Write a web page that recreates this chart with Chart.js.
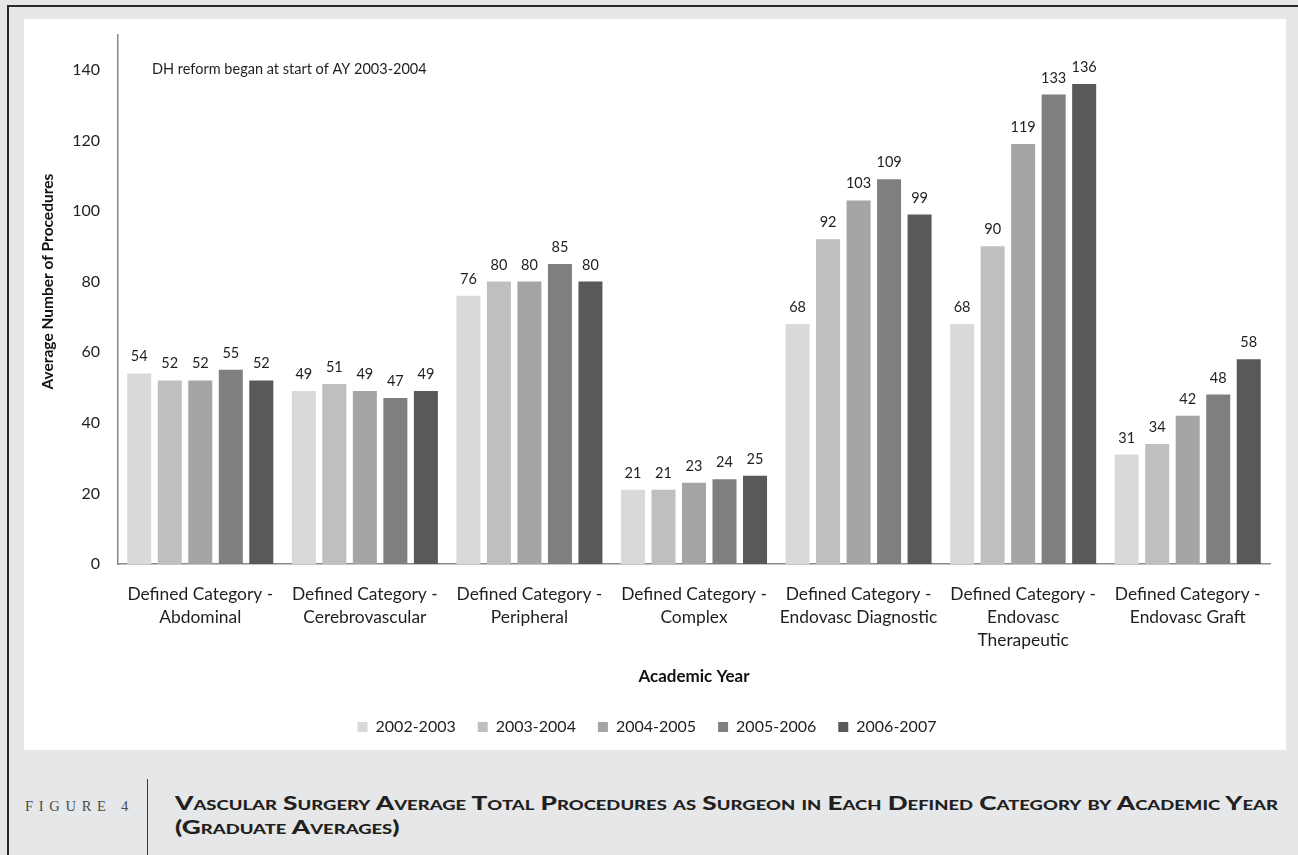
<!DOCTYPE html>
<html>
<head>
<meta charset="utf-8">
<script src="https://cdn.jsdelivr.net/npm/chart.js@4.4.1/dist/chart.umd.min.js"></script>
<style>
  html, body { margin: 0; padding: 0; }
  body {
    width: 1298px; height: 855px; overflow: hidden;
    background: #e6e7e8; position: relative;
    font-family: Lato, "Open Sans", sans-serif;
  }
  #frame {
    position: absolute; left: 7px; top: 5px; width: 1400px; height: 900px;
    border-top: 2px solid #2b2b2b; border-left: 2px solid #2b2b2b;
  }
  #panel {
    position: absolute; left: 24px; top: 19px; width: 1262px; height: 731px;
    background: #ffffff;
  }
  #panel canvas { display: block; }
  #figlabel {
    position: absolute; left: 25px; top: 797px;
    font-family: "Liberation Serif", "DejaVu Serif", serif;
    font-size: 14.5px; letter-spacing: 5.7px; color: #4a4a4a;
    line-height: 18px;
  }
  #sep {
    position: absolute; left: 147px; top: 779px; width: 1px; height: 80px;
    background: #3a3a3a;
  }
  #caption {
    position: absolute; left: 175px; top: 791px;
    font-family: Lato, "Open Sans", sans-serif; font-weight: 900;
    font-size: 18.5px; font-variant: small-caps; color: #231f20;
    line-height: 24px; white-space: nowrap;
  }
  #caption span { display: inline-block; transform-origin: 0 0; }
</style>
</head>
<body>
<div id="frame"></div>
<div id="panel"><canvas id="chart" width="1262" height="731"></canvas></div>
<div id="figlabel">FIGURE 4</div>
<div id="sep"></div>
<div id="caption">
  <span id="cap1">Vascular Surgery Average Total Procedures as Surgeon in Each Defined Category by Academic Year</span><br>
  <span id="cap2">(Graduate Averages)</span>
</div>
<script>
// Procedure categories (multi-line tick labels)
const categories = [
  ["Defined Category -", "Abdominal"],
  ["Defined Category -", "Cerebrovascular"],
  ["Defined Category -", "Peripheral"],
  ["Defined Category -", "Complex"],
  ["Defined Category -", "Endovasc Diagnostic"],
  ["Defined Category -", "Endovasc", "Therapeutic"],
  ["Defined Category -", "Endovasc Graft"]
];

// Academic years (series)
const years = ["2002-2003", "2003-2004", "2004-2005", "2005-2006", "2006-2007"];

// Average number of procedures per category, one array per academic year
const ay2002 = [54, 49, 76, 21, 68, 68, 31];
const ay2003 = [52, 51, 80, 21, 92, 90, 34];
const ay2004 = [52, 49, 80, 23, 103, 119, 42];
const ay2005 = [55, 47, 85, 24, 109, 133, 48];
const ay2006 = [52, 49, 80, 25, 99, 136, 58];

// Y axis tick values shown
const yTicks = [0, 20, 40, 60, 80, 100, 120, 140];

const seriesValues = [ay2002, ay2003, ay2004, ay2005, ay2006];
const seriesColors = ["#d9d9d9", "#bfbfbf", "#a5a5a5", "#7f7f7f", "#595959"];

const note = "DH reform began at start of AY 2003-2004";
const yTitle = "Average Number of Procedures";

// Value labels above each bar
const valueLabels = {
  id: "valueLabels",
  afterDatasetsDraw(chart) {
    const ctx = chart.ctx;
    ctx.save();
    ctx.font = "14.5px Lato";
    ctx.fillStyle = "#1f1f1f";
    ctx.textAlign = "center";
    ctx.textBaseline = "alphabetic";
    chart.data.datasets.forEach((ds, i) => {
      chart.getDatasetMeta(i).data.forEach((bar, j) => {
        ctx.fillText(String(ds.data[j]), bar.x, bar.y - 12);
      });
    });
    ctx.restore();
  }
};

// Note text in the upper-left of the plot and the rotated y axis title
const extraText = {
  id: "extraText",
  afterDraw(chart) {
    const ctx = chart.ctx;
    const y = chart.scales.y.getPixelForValue(140);
    ctx.save();
    ctx.font = "14.5px Lato";
    ctx.fillStyle = "#1f1f1f";
    ctx.textAlign = "left";
    ctx.textBaseline = "middle";
    ctx.fillText(note, chart.chartArea.left + 34, y);

    ctx.translate(24, chart.scales.y.getPixelForValue(80));
    ctx.rotate(-Math.PI / 2);
    ctx.font = "bold 15.5px Lato";
    ctx.fillStyle = "#111";
    ctx.textAlign = "center";
    ctx.fillText(yTitle, 0, 0);
    ctx.restore();
  }
};

new Chart(document.getElementById("chart"), {
  type: "bar",
  data: {
    labels: categories,
    datasets: years.map((y, i) => ({
      label: y,
      data: seriesValues[i],
      backgroundColor: seriesColors[i],
      borderWidth: 0,
      categoryPercentage: 0.927,
      barPercentage: 0.787
    }))
  },
  options: {
    responsive: false,
    animation: false,
    devicePixelRatio: 1,
    layout: { padding: { left: 0, right: 16, top: 15.5, bottom: 5 } },
    plugins: {
      tooltip: { enabled: false },
      legend: {
        position: "bottom",
        labels: {
          boxWidth: 10, boxHeight: 10, padding: 22,
          color: "#1f1f1f",
          font: { family: "Lato", size: 16 }
        }
      }
    },
    scales: {
      x: {
        grid: { display: false, drawTicks: false },
        border: { display: true, color: "#8a8a8a", width: 1.5 },
        ticks: {
          color: "#1f1f1f", padding: 19, maxRotation: 0, autoSkip: false,
          font: { family: "Lato", size: 17.4, lineHeight: 1.33 }
        },
        title: {
          display: true, text: "Academic Year", color: "#111",
          font: { family: "Lato", size: 17, weight: "bold" },
          padding: { top: 0, bottom: 10 }
        },
        afterFit(scale) { scale.height = 133; }
      },
      y: {
        min: 0, max: 150,
        grid: { display: false, drawTicks: false },
        border: { display: true, color: "#8a8a8a", width: 1.5 },
        ticks: {
          color: "#1f1f1f", padding: 18,
          font: { family: "Lato", size: 16 }
        },
        afterBuildTicks(scale) {
          scale.ticks = yTicks.map(v => ({ value: v }));
        },
        afterFit(scale) {
          scale.width = 94;
          scale.paddingTop = 0;
          scale.paddingBottom = 0;
        }
      }
    }
  },
  plugins: [valueLabels, extraText]
});

// Stretch the caption lines to their set width
function fitCaption() {
  const c1 = document.getElementById("cap1");
  const c2 = document.getElementById("cap2");
  const w = c1.getBoundingClientRect().width;
  const s = 1103 / w;
  c1.style.transform = "scaleX(" + s + ")";
  c2.style.transform = "scaleX(" + s + ")";
}
if (document.fonts && document.fonts.ready) {
  document.fonts.ready.then(fitCaption);
} else {
  fitCaption();
}
</script>
</body>
</html>
